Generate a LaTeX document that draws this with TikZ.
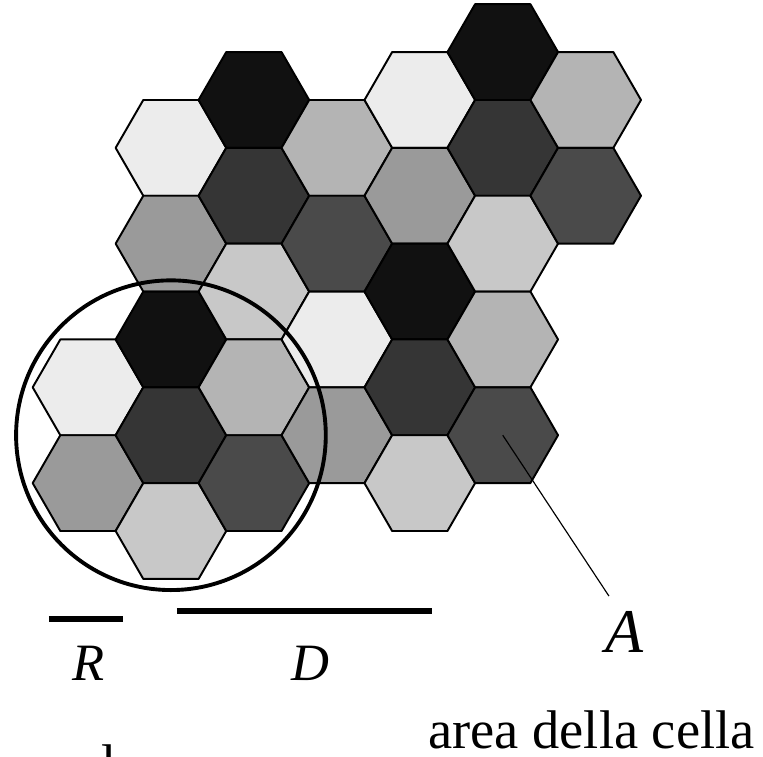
\documentclass[tikz,border=0pt]{standalone}
\usepackage{fontspec}
\setmainfont{Liberation Serif}
\definecolor{nero}{HTML}{111111}
\definecolor{scuro}{HTML}{353535}
\definecolor{scuroB}{HTML}{4A4A4A}
\definecolor{medio}{HTML}{9A9A9A}
\definecolor{chiaro}{HTML}{B4B4B4}
\definecolor{chiaroB}{HTML}{C8C8C8}
\definecolor{bianco}{HTML}{ECECEC}
\tikzset{
  cella/.style = {draw = black, line width = 1pt, line join = round},
  barra/.style = {line width = 3.1pt},
  lbl/.style = {inner sep = 0pt, font = \fontsize{27}{30}\selectfont\itshape}
}
\begin{document}
\begin{tikzpicture}[x = 1cm, y = 1cm]
\useasboundingbox (-1.591,1.808) rectangle (12.206,-11.863);
% Vẽ các ô lục giác
\foreach \i/\k/\c in {0/3/bianco, 0/4/medio,
  1/1/bianco, 1/2/medio, 1/3/nero, 1/4/scuro, 1/5/chiaroB,
  2/0/nero, 2/1/scuro, 2/2/chiaroB, 2/3/chiaro, 2/4/scuroB,
  3/1/chiaro, 3/2/scuroB, 3/3/bianco, 3/4/medio,
  4/0/bianco, 4/1/medio, 4/2/nero, 4/3/scuro, 4/4/chiaroB,
  5/0/nero, 5/1/scuro, 5/2/chiaroB, 5/3/chiaro, 5/4/scuroB,
  6/0/chiaro, 6/1/scuroB}
{
  \pgfmathsetmacro\xx{1.5*\i}
  \pgfmathsetmacro\yy{-sqrt(3)*\k+sqrt(3)/2*mod(\i,2)}
  \draw[cella, fill = \c] (\xx,\yy) +(0:1) -- +(60:1) -- +(120:1)
    -- +(180:1) -- +(240:1) -- +(300:1) -- cycle;
}
% Cluster
\coordinate (centro) at (1.5,-6.062);
\draw[line width = 2pt] (centro) circle (2.8);
% Đoạn R và D
\coordinate (r1) at (-0.705,-9.385);
\coordinate (r2) at (0.633,-9.385);
\coordinate (d1) at (1.609,-9.241);
\coordinate (d2) at (6.221,-9.241);
\draw[barra] (r1) -- (r2);
\draw[barra] (d1) -- (d2);
\node[lbl] (lblR) at (0.018,-10.18) {R};
\node[lbl] (lblD) at (4.03,-10.18) {D};
% Nhãn A
\node[lbl, font = \fontsize{32}{36}\selectfont\itshape] (lblA) at (9.71,-9.62) {A};
\coordinate (cellaA) at (7.5,-6.062);
\coordinate (puntaA) at (9.42,-8.97);
\draw[line width = 0.6pt] (cellaA) -- (puntaA);
\node[anchor = base west, inner sep = 0pt, font = \fontsize{28}{32}\selectfont]
  (area) at (6.148,-11.718) {area della cella};
\node[anchor = base, inner sep = 0pt, font = \fontsize{28}{32}\selectfont]
  (resto) at (0.38,-12.35) {l};
\end{tikzpicture}
\end{document}
